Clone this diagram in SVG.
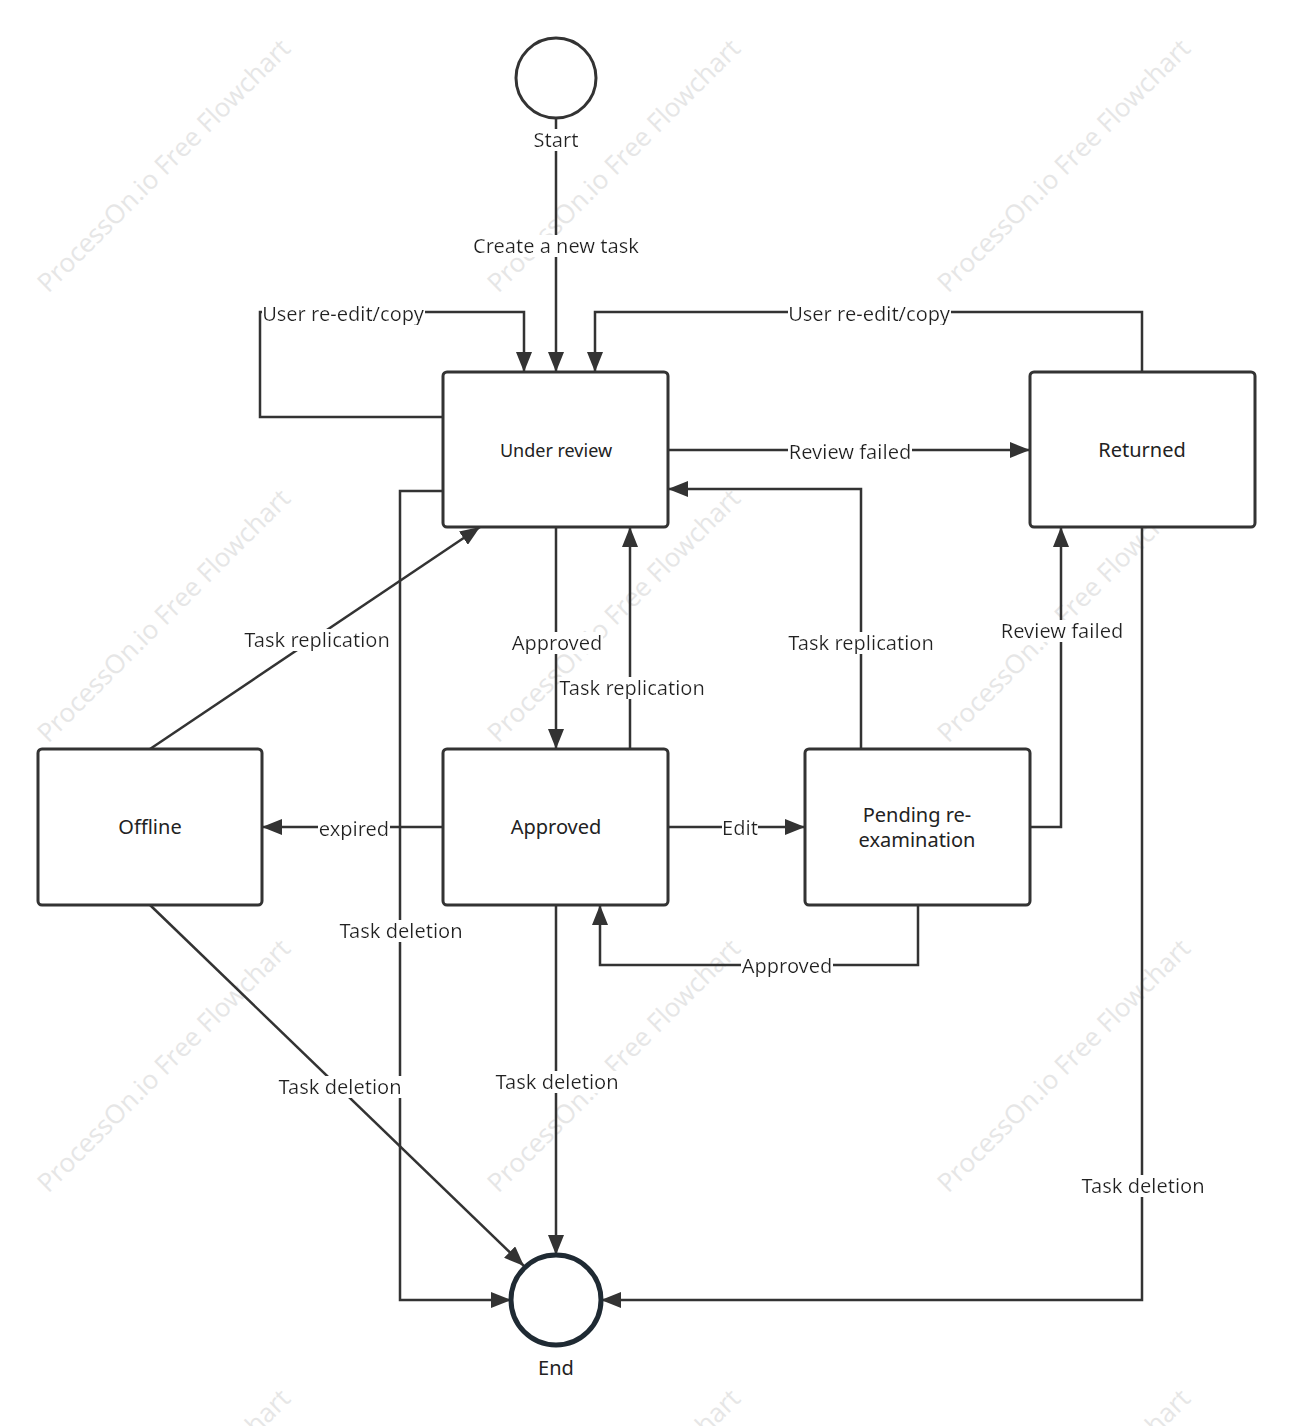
<svg xmlns="http://www.w3.org/2000/svg" width="1292" height="1426" viewBox="0 0 1292 1426">
<style>
.wm{font-family:"Open Sans","Noto Sans",sans-serif;font-size:26px;fill:#e6e6e6;text-anchor:middle}
.box{fill:#fff;stroke:#333;stroke-width:3}
.nt{font-family:"Noto Sans","Open Sans",sans-serif;font-size:20px;fill:#222;text-anchor:middle;dominant-baseline:middle}
.c path{fill:none;stroke:#333;stroke-width:2.5;marker-end:url(#a)}
.lb{font-family:"Noto Sans","Open Sans",sans-serif;font-size:20px;fill:#222;text-anchor:middle;dominant-baseline:middle;filter:url(#bg)}
</style>
<defs>
<marker id="a" markerUnits="userSpaceOnUse" markerWidth="22" markerHeight="16" refX="20" refY="8" orient="auto"><path d="M0,0L20,8L0,16z" fill="#333"/></marker>
<filter id="bg" x="0" y="0.1" width="1" height="0.8"><feFlood flood-color="#fff"/><feComposite in="SourceGraphic" operator="over"/></filter>
</defs>
<rect width="1292" height="1426" fill="#fff"/>
<g id="watermarks">
<text class="wm" transform="translate(170,172) rotate(-45)">ProcessOn.io Free Flowchart</text>
<text class="wm" transform="translate(620,172) rotate(-45)">ProcessOn.io Free Flowchart</text>
<text class="wm" transform="translate(1070,172) rotate(-45)">ProcessOn.io Free Flowchart</text>
<text class="wm" transform="translate(170,622) rotate(-45)">ProcessOn.io Free Flowchart</text>
<text class="wm" transform="translate(620,622) rotate(-45)">ProcessOn.io Free Flowchart</text>
<text class="wm" transform="translate(1070,622) rotate(-45)">ProcessOn.io Free Flowchart</text>
<text class="wm" transform="translate(170,1072) rotate(-45)">ProcessOn.io Free Flowchart</text>
<text class="wm" transform="translate(620,1072) rotate(-45)">ProcessOn.io Free Flowchart</text>
<text class="wm" transform="translate(1070,1072) rotate(-45)">ProcessOn.io Free Flowchart</text>
<text class="wm" transform="translate(170,1522) rotate(-45)">ProcessOn.io Free Flowchart</text>
<text class="wm" transform="translate(620,1522) rotate(-45)">ProcessOn.io Free Flowchart</text>
<text class="wm" transform="translate(1070,1522) rotate(-45)">ProcessOn.io Free Flowchart</text>
</g>
<g id="connectors" class="c">
<path d="M556,118V372"/>
<path d="M443,417H260V312H524V372"/>
<path d="M1142,372V312H595V372"/>
<path d="M668,450H1030"/>
<path d="M861,749V489H668"/>
<path d="M556,527V749"/>
<path d="M630,749V527"/>
<path d="M150,749L480,527"/>
<path d="M443,827H262"/>
<path d="M668,827H805"/>
<path d="M1030,827H1061V527"/>
<path d="M918,905V965H600V905"/>
<path d="M443,491H400V1300H511"/>
<path d="M150,905L524,1266"/>
<path d="M556,905V1255"/>
<path d="M1142,527V1300H601"/>
</g>
<g id="labels">
<text class="lb" x="556" y="248">Create a new task</text>
<text class="lb" x="343" y="316">User re-edit/copy</text>
<text class="lb" x="869" y="316">User re-edit/copy</text>
<text class="lb" x="850" y="454">Review failed</text>
<text class="lb" x="861" y="645">Task replication</text>
<text class="lb" x="557" y="645">Approved</text>
<text class="lb" x="632" y="690">Task replication</text>
<text class="lb" x="317" y="642">Task replication</text>
<text class="lb" x="354" y="831">expired</text>
<text class="lb" x="740" y="830">Edit</text>
<text class="lb" x="1062" y="633">Review failed</text>
<text class="lb" x="787" y="968">Approved</text>
<text class="lb" x="401" y="933">Task deletion</text>
<text class="lb" x="340" y="1089">Task deletion</text>
<text class="lb" x="557" y="1084">Task deletion</text>
<text class="lb" x="1143" y="1188">Task deletion</text>
</g>
<g id="start"><circle cx="556" cy="78" r="40" fill="#fff" stroke="#333" stroke-width="3"/><text class="lb" x="556" y="142">Start</text></g>
<g id="under-review"><rect class="box" x="443" y="372" width="225" height="155" rx="4"/><text class="nt" x="556" y="452" style="font-size:18px">Under review</text></g>
<g id="returned"><rect class="box" x="1030" y="372" width="225" height="155" rx="4"/><text class="nt" x="1142" y="452">Returned</text></g>
<g id="offline"><rect class="box" x="38" y="749" width="224" height="156" rx="4"/><text class="nt" x="150" y="829">Offline</text></g>
<g id="approved"><rect class="box" x="443" y="749" width="225" height="156" rx="4"/><text class="nt" x="556" y="829">Approved</text></g>
<g id="pending"><rect class="box" x="805" y="749" width="225" height="156" rx="4"/><text class="nt" x="917" y="817">Pending re-</text><text class="nt" x="917" y="842">examination</text></g>
<g id="end"><circle cx="556" cy="1300" r="45" fill="#fff" stroke="#1f2a33" stroke-width="5"/><text class="nt" x="556" y="1370">End</text></g>
</svg>
